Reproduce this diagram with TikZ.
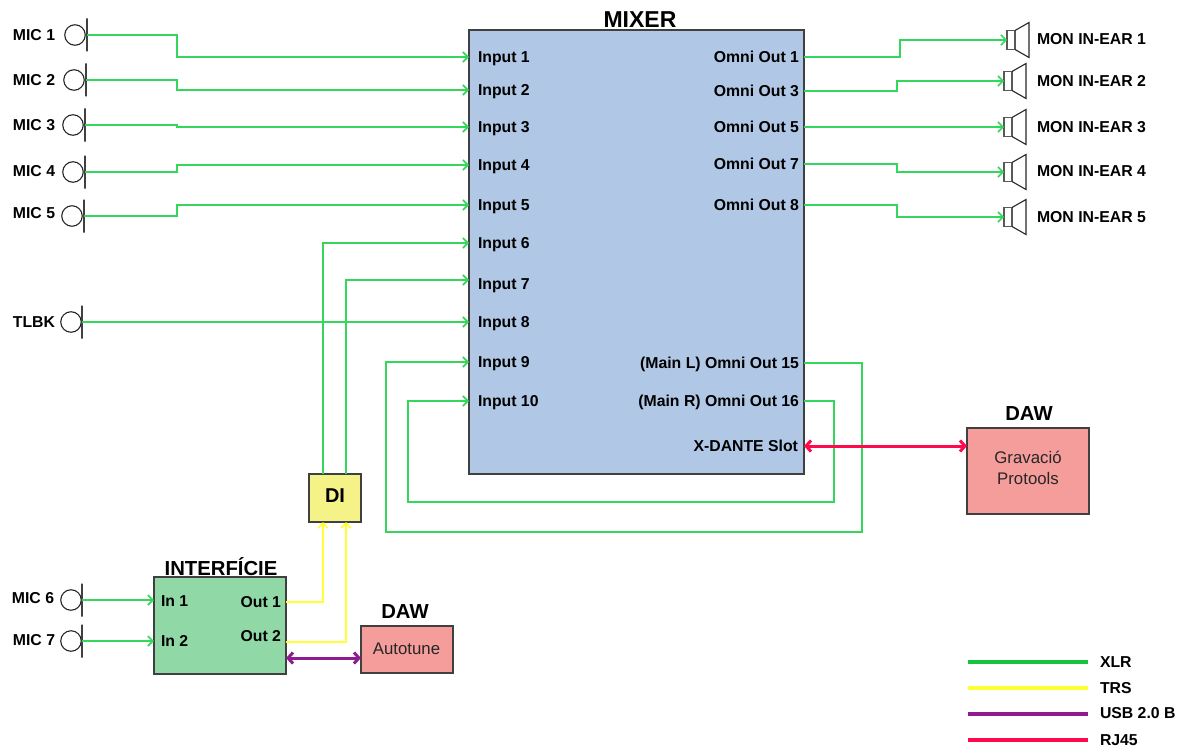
\documentclass[tikz,border=0pt]{standalone}
\usepackage{fontspec}
\setmainfont{Liberation Sans}
\usetikzlibrary{arrows.meta}

\begin{document}
\begin{tikzpicture}[x=1pt,y=-1pt,
  every node/.style={inner sep=0pt, outer sep=0pt},
  lbl/.style={font=\fontsize{15.8}{18}\selectfont\bfseries, text height=11pt, text depth=0pt},
  lblw/.style={lbl, anchor=west},
  lble/.style={lbl, anchor=east},
  title/.style={font=\fontsize{20.3}{24}\selectfont\bfseries},
  box/.style={draw=black!75, line width=1.4pt},
  soft/.style={font=\fontsize{16.8}{20}\selectfont, align=center, text=black!85},
  micnode/.style={draw=black!85, line width=1.1pt, circle, minimum size=20.5pt},
  micbar/.style={draw=black!75, line width=1.2pt, minimum width=0pt, minimum height=33pt},
  spkbox/.style={draw=black!65, line width=1.4pt, minimum width=8pt, minimum height=19pt},
  cone/.style={draw=black!85, line width=1.1pt},
  xlr/.style={line width=1.6pt, -{Straight Barb[length=5pt,width=10pt]}},
  trs/.style={line width=1.7pt, -{Straight Barb[length=5pt,width=10pt]}},
  usb/.style={line width=3pt, {Straight Barb[length=5pt,width=11pt]}-{Straight Barb[length=5pt,width=11pt]}},
  rj/.style={line width=3pt, {Straight Barb[length=5pt,width=11pt]}-{Straight Barb[length=5pt,width=11pt]}},
  key/.style={line width=3.2pt}]

\definecolor{mixerblue}{HTML}{B0C8E6}
\definecolor{digreen}{HTML}{90D9A6}
\definecolor{diyellow}{HTML}{F5F287}
\definecolor{dawred}{HTML}{F59D9B}
\definecolor{xlrgreen}{HTML}{35D65C}
\definecolor{keygreen}{HTML}{12C53C}
\definecolor{trsyellow}{HTML}{FFFF33}
\definecolor{usbpurple}{HTML}{8E1C90}
\definecolor{rjred}{HTML}{FF0A4C}
\tikzset{xlr/.append style={color=xlrgreen}, trs/.append style={color=trsyellow},
  usb/.append style={color=usbpurple}, rj/.append style={color=rjred}}

\useasboundingbox (0,0) rectangle (1185,749);

% boxes
\node[box, fill=mixerblue, minimum width=335pt, minimum height=444pt] (mixer) at (636.5,252) {};
\node[title, font=\fontsize{23}{26}\selectfont\bfseries] (mixertitle) at (640,20) {MIXER};
\node[box, fill=diyellow, minimum width=52pt, minimum height=48pt] (di) at (335,498) {};
\node[title, font=\fontsize{20}{22}\selectfont\bfseries] (dilabel) at (335,496) {DI};
\node[box, fill=digreen, minimum width=132pt, minimum height=97pt] (intf) at (220,625.5) {};
\node[title] (intftitle) at (221,567) {INTERFÍCIE};
\node[box, fill=dawred, minimum width=92pt, minimum height=47pt] (tune) at (407,649.5) {};
\node[title] (tunetitle) at (405,612) {DAW};
\node[soft] (tunelabel) at (406.5,649) {Autotune};
\node[box, fill=dawred, minimum width=122pt, minimum height=86pt] (rec) at (1028,471) {};
\node[title] (rectitle) at (1029,414) {DAW};
\node[soft] (reclabel) at (1028,467.5) {Gravació\\[1pt]Protools};

% mixer inputs
\node[lblw] (in1) at (478,57) {Input 1};
\node[lblw] (in2) at (478,90) {Input 2};
\node[lblw] (in3) at (478,127) {Input 3};
\node[lblw] (in4) at (478,165) {Input 4};
\node[lblw] (in5) at (478,205) {Input 5};
\node[lblw] (in6) at (478,243) {Input 6};
\node[lblw] (in7) at (478,284) {Input 7};
\node[lblw] (in8) at (478,322) {Input 8};
\node[lblw] (in9) at (478,362) {Input 9};
\node[lblw] (in10) at (478,401) {Input 10};
\coordinate (in7port) at (469,280);

% mixer outputs
\node[lble] (out1) at (799,57) {Omni Out 1};
\node[lble] (out3) at (799,91) {Omni Out 3};
\node[lble] (out5) at (799,127) {Omni Out 5};
\node[lble] (out7) at (799,164) {Omni Out 7};
\node[lble] (out8) at (799,205) {Omni Out 8};
\node[lble] (out15) at (799,363) {(Main L) Omni Out 15};
\node[lble] (out16) at (799,401) {(Main R) Omni Out 16};
\node[lble] (dante) at (798,446) {X-DANTE Slot};

% interface ports
\node[lblw] (if1) at (161,601) {In 1};
\node[lblw] (if2) at (161,641) {In 2};
\node[lble] (ifout1) at (281,602) {Out 1};
\node[lble] (ifout2) at (281,636) {Out 2};
\coordinate (ifout2port) at (286,642);
\coordinate (ifusb) at (286,658);
\coordinate (tuneusb) at (361,658);
\coordinate (ditop1) at (323,474);
\coordinate (ditop2) at (346,474);
\coordinate (dibot1) at (323,522);
\coordinate (dibot2) at (346,522);

% microphones
\node[micnode] (mic1) at (75,35) {};
\node[micbar] (bar1) at (87,35) {};
\node[lbl] (miclabel1) at (34,35) {MIC 1};
\node[micnode] (mic2) at (74,80) {};
\node[micbar] (bar2) at (86,80) {};
\node[lbl] (miclabel2) at (34,80) {MIC 2};
\node[micnode] (mic3) at (73,125) {};
\node[micbar] (bar3) at (85,125) {};
\node[lbl] (miclabel3) at (34,125) {MIC 3};
\node[micnode] (mic4) at (73,172) {};
\node[micbar] (bar4) at (85,172) {};
\node[lbl] (miclabel4) at (34,171) {MIC 4};
\node[micnode] (mic5) at (72,216) {};
\node[micbar] (bar5) at (84,216) {};
\node[lbl] (miclabel5) at (34,213) {MIC 5};
\node[micnode] (mic6) at (71,600) {};
\node[micbar] (bar6) at (82,600) {};
\node[lbl] (miclabel6) at (33,598) {MIC 6};
\node[micnode] (mic7) at (71,641) {};
\node[micbar] (bar7) at (82,641) {};
\node[lbl] (miclabel7) at (34,640) {MIC 7};
\node[micnode] (tlbk) at (71,322) {};
\node[micbar] (tlbkbar) at (82,322) {};
\node[lbl] (tlbklabel) at (34,322) {TLBK};

% monitors
\node[spkbox] (spk1) at (1011,40) {};
\node[spkbox] (spk2) at (1008,81) {};
\node[spkbox] (spk3) at (1008,127) {};
\node[spkbox] (spk4) at (1008,172) {};
\node[spkbox] (spk5) at (1008,217) {};
\draw[cone] (spk1.north east) -- ++(14,-8) -- ++(0,35) -- (spk1.south east);
\draw[cone] (spk2.north east) -- ++(14,-8) -- ++(0,35) -- (spk2.south east);
\draw[cone] (spk3.north east) -- ++(14,-8) -- ++(0,35) -- (spk3.south east);
\draw[cone] (spk4.north east) -- ++(14,-8) -- ++(0,35) -- (spk4.south east);
\draw[cone] (spk5.north east) -- ++(14,-8) -- ++(0,35) -- (spk5.south east);
\node[lblw] (monlabel1) at (1037,39) {MON IN-EAR 1};
\node[lblw] (monlabel2) at (1037,81) {MON IN-EAR 2};
\node[lblw] (monlabel3) at (1037,127) {MON IN-EAR 3};
\node[lblw] (monlabel4) at (1037,171) {MON IN-EAR 4};
\node[lblw] (monlabel5) at (1037,217) {MON IN-EAR 5};

% xlr connections
\draw[xlr] (bar1.center) -- ++(90,0) |- (mixer.west |- in1);
\draw[xlr] (bar2.center) -- ++(91,0) |- (mixer.west |- in2);
\draw[xlr] (bar3.center) -- ++(92,0) |- (mixer.west |- in3);
\draw[xlr] (bar4.center) -- ++(92,0) |- (mixer.west |- in4);
\draw[xlr] (bar5.center) -- ++(93,0) |- (mixer.west |- in5);
\draw[xlr] (tlbkbar.center) -- (mixer.west |- in8);
\draw[xlr] (bar6.center) -- (intf.west |- bar6);
\draw[xlr] (bar7.center) -- (intf.west |- bar7);
\draw[xlr] (ditop1) |- (mixer.west |- in6);
\draw[xlr] (ditop2) |- (in7port);
\draw[xlr] (mixer.east |- out1) -- ++(96,0) |- (spk1.west);
\draw[xlr] (mixer.east |- out3) -- ++(93,0) |- (spk2.west);
\draw[xlr] (mixer.east |- out5) -- (spk3.west |- out5);
\draw[xlr] (mixer.east |- out7) -- ++(93,0) |- (spk4.west);
\draw[xlr] (mixer.east |- out8) -- ++(93,0) |- (spk5.west);
\draw[xlr] (mixer.east |- out15) -- ++(58,0) -- ++(0,169) -- ++(-476,0) |- (mixer.west |- in9);
\draw[xlr] (mixer.east |- out16) -- ++(30,0) -- ++(0,101) -- ++(-426,0) |- (mixer.west |- in10);

% trs connections
\draw[trs] (intf.east |- ifout1) -| (dibot1);
\draw[trs] (ifout2port) -| (dibot2);

% usb and rj45
\draw[usb] (ifusb) -- (tuneusb);
\draw[rj] (mixer.east |- dante) -- (rec.west |- dante);

% legend
\coordinate (xlrstart) at (968,662);
\coordinate (trsstart) at (968,688);
\coordinate (usbstart) at (968,714);
\coordinate (rjstart) at (968,740);
\node[lblw] (xlrkey) at (1100,662) {XLR};
\node[lblw] (trskey) at (1100,688) {TRS};
\node[lblw] (usbkey) at (1100,713) {USB 2.0 B};
\node[lblw] (rjkey) at (1100,740) {RJ45};
\draw[key, color=keygreen] (xlrstart) -- ++(120,0);
\draw[key, color=trsyellow] (trsstart) -- ++(120,0);
\draw[key, color=usbpurple] (usbstart) -- ++(120,0);
\draw[key, color=rjred] (rjstart) -- ++(120,0);
\end{tikzpicture}
\end{document}
